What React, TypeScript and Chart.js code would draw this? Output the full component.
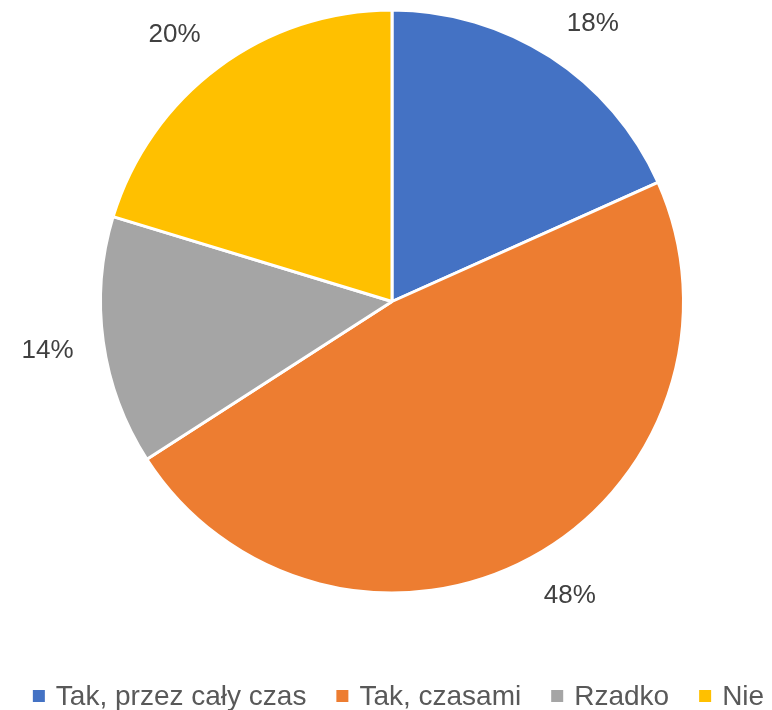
import React, { useEffect, useRef } from "react";
import { Chart, registerables } from "chart.js";

Chart.register(...registerables);

const categories = ["Tak, przez cały czas", "Tak, czasami", "Rzadko", "Nie"];
const values = [18.3, 47.6, 13.8, 20.3];
const colors = ["#4472C4", "#ED7D31", "#A5A5A5", "#FFC000"];

const FONT = '"Liberation Sans", Arial, sans-serif';

const outsideLabels = {
  id: "outsideLabels",
  afterDatasetsDraw(chart: any) {
    const ctx = chart.ctx;
    const meta = chart.getDatasetMeta(0);
    const data = chart.data.datasets[0].data as number[];
    const total = data.reduce((a, b) => a + b, 0);
    ctx.save();
    ctx.font = `26px ${FONT}`;
    ctx.fillStyle = "#404040";
    ctx.textAlign = "center";
    ctx.textBaseline = "alphabetic";
    const clamp = (v: number) => Math.max(-1, Math.min(1, v));
    meta.data.forEach((arc: any, i: number) => {
      const { x, y, startAngle, endAngle, outerRadius } = arc.getProps(
        ["x", "y", "startAngle", "endAngle", "outerRadius"],
        true
      );
      const mid = (startAngle + endAngle) / 2;
      const c = Math.cos(mid);
      const s = Math.sin(mid);
      const R = outerRadius + 30;
      const px = x + c * R;
      const py = y + s * R;
      const text = Math.round((data[i] / total) * 100) + "%";
      const w = ctx.measureText(text).width;
      const h = 20;
      const cx = px + (w / 2) * clamp(c * 2);
      const cy = py + (h / 2) * clamp(s * 2);
      ctx.fillText(text, cx, cy + 9);
    });
    ctx.restore();
  },
};

const bottomLegend = {
  id: "bottomLegend",
  afterDraw(chart: any) {
    const ctx = chart.ctx;
    const labels = chart.data.labels as string[];
    const bg = chart.data.datasets[0].backgroundColor as string[];
    ctx.save();
    ctx.font = `28px ${FONT}`;
    ctx.textAlign = "left";
    ctx.textBaseline = "alphabetic";
    const box = 12;
    const gapText = 11;
    const gapItem = 30;
    const widths = labels.map((l) => ctx.measureText(l).width);
    const total =
      widths.reduce((a, w) => a + box + gapText + w, 0) + gapItem * (labels.length - 1);
    let x = chart.width / 2 + 12.5 - total / 2;
    const baseline = 705;
    labels.forEach((l, i) => {
      ctx.fillStyle = bg[i];
      ctx.fillRect(x, 690, box, box);
      x += box + gapText;
      ctx.fillStyle = "#595959";
      ctx.fillText(l, x, baseline);
      x += widths[i] + gapItem;
    });
    ctx.restore();
  },
};

export default function App() {
  const ref = useRef<HTMLCanvasElement | null>(null);
  useEffect(() => {
    if (!ref.current) return;
    const chart = new Chart(ref.current, {
      type: "pie",
      data: {
        labels: categories,
        datasets: [
          {
            data: values,
            backgroundColor: colors,
            borderColor: "#FFFFFF",
            borderWidth: 3,
          },
        ],
      },
      options: {
        responsive: false,
        animation: false,
        devicePixelRatio: 1,
        layout: { padding: { left: 12, right: 0, top: 8.5, bottom: 115.5 } },
        plugins: {
          legend: { display: false },
          tooltip: { enabled: false },
        },
      },
      plugins: [outsideLabels, bottomLegend],
    });
    return () => chart.destroy();
  }, []);
  return (
    <div style={{ position: "absolute", left: 0, top: 0, width: 772, height: 710, background: "#fff" }}>
      <canvas ref={ref} width={772} height={710} style={{ display: "block" }} />
    </div>
  );
}
